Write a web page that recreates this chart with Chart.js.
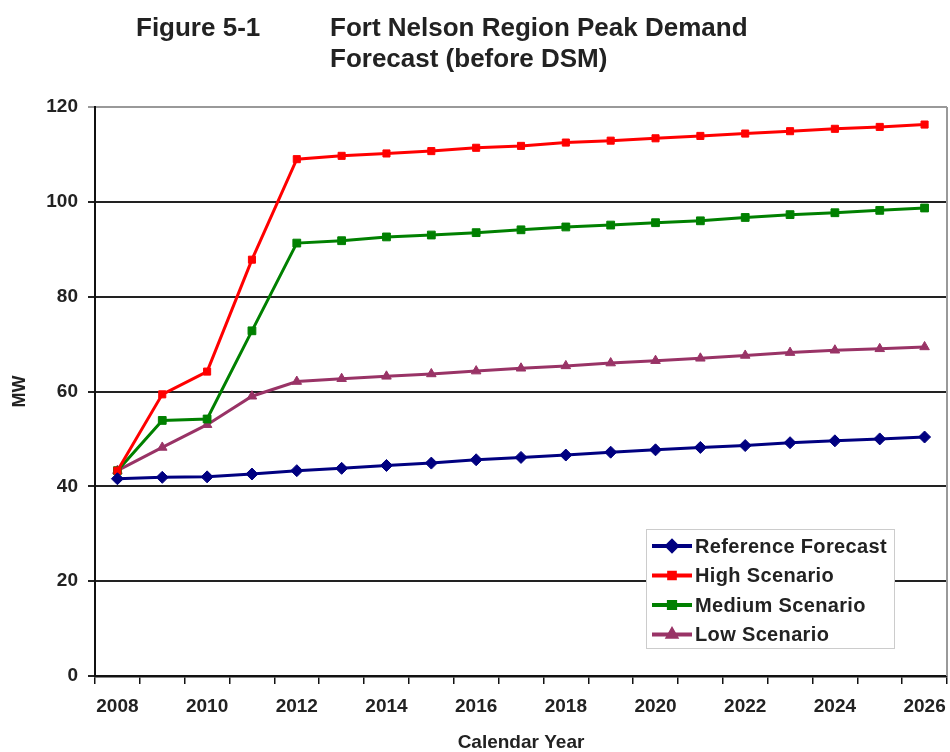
<!DOCTYPE html>
<html>
<head>
<meta charset="utf-8">
<script src="https://cdn.jsdelivr.net/npm/chart.js@4.4.1/dist/chart.umd.min.js"></script>
<style>
  html, body { margin: 0; padding: 0; background: #fff; }
  canvas { display: block; }
</style>
</head>
<body>
<canvas id="chart" width="950" height="752"></canvas>
<script>
// chart data
const years = ['2008', '2009', '2010', '2011', '2012', '2013', '2014', '2015', '2016', '2017',
  '2018', '2019', '2020', '2021', '2022', '2023', '2024', '2025', '2026'];
const referenceForecast = [41.6, 41.9, 42.0, 42.6, 43.3, 43.8, 44.4, 44.9, 45.6, 46.1,
  46.6, 47.2, 47.7, 48.2, 48.6, 49.2, 49.6, 50.0, 50.4];
const highScenario = [43.3, 59.4, 64.2, 87.8, 109.0, 109.7, 110.2, 110.7, 111.4, 111.8,
  112.5, 112.9, 113.4, 113.9, 114.4, 114.9, 115.4, 115.8, 116.3];
const mediumScenario = [43.3, 53.9, 54.2, 72.8, 91.3, 91.8, 92.6, 93.0, 93.5, 94.1,
  94.7, 95.1, 95.6, 96.0, 96.7, 97.3, 97.7, 98.2, 98.7];
const lowScenario = [43.3, 48.2, 53.0, 59.0, 62.1, 62.7, 63.2, 63.7, 64.3, 64.9,
  65.4, 66.0, 66.5, 67.0, 67.6, 68.2, 68.7, 69.0, 69.4];
const yTicks = [0, 20, 40, 60, 80, 100, 120];

const FONT = "'Liberation Sans', Arial, sans-serif";

// title lines at the top of the figure
const figureTitle = {
  id: 'figureTitle',
  afterDraw(chart) {
    const ctx = chart.ctx;
    ctx.save();
    ctx.fillStyle = '#222';
    ctx.font = 'bold 26px ' + FONT;
    ctx.textBaseline = 'alphabetic';
    ctx.fillText('Figure 5-1', 136, 36);
    ctx.fillText('Fort Nelson Region Peak Demand', 330, 36);
    ctx.fillText('Forecast (before DSM)', 330, 67);
    ctx.restore();
  }
};

// grey frame on the right side of the plot
const rightFrame = {
  id: 'rightFrame',
  beforeDatasetsDraw(chart) {
    const a = chart.chartArea;
    const ctx = chart.ctx;
    ctx.save();
    ctx.strokeStyle = '#999';
    ctx.lineWidth = 2;
    ctx.beginPath();
    ctx.moveTo(a.right, a.top);
    ctx.lineTo(a.right, a.bottom);
    ctx.stroke();
    ctx.restore();
  }
};

// legend box inside the plot, lower right
const boxLegend = {
  id: 'boxLegend',
  afterDraw(chart) {
    const ctx = chart.ctx;
    const x = 646, y = 529, w = 248, h = 119;
    ctx.save();
    ctx.fillStyle = '#fff';
    ctx.fillRect(x, y, w, h);
    ctx.strokeStyle = '#ccc';
    ctx.lineWidth = 1;
    ctx.strokeRect(x + 0.5, y + 0.5, w, h);
    ctx.font = 'bold 20px ' + FONT;
    ctx.letterSpacing = '0.35px';
    ctx.textBaseline = 'middle';
    chart.data.datasets.forEach(function (ds, i) {
      const cy = y + 17 + i * 29.5;
      ctx.strokeStyle = ds.borderColor;
      ctx.lineWidth = 4;
      ctx.beginPath();
      ctx.moveTo(652, cy);
      ctx.lineTo(692, cy);
      ctx.stroke();
      Chart.helpers.drawPoint(ctx, {
        pointStyle: ds.pointStyle,
        radius: ds.pointRadius * 0.8,
        borderWidth: 1
      }, 672, cy);
      ctx.fillStyle = ds.borderColor;
      ctx.fill();
      ctx.fillStyle = '#222';
      ctx.fillText(ds.label, 695, cy + 1);
    });
    ctx.restore();
  }
};

const ctx = document.getElementById('chart').getContext('2d');
new Chart(ctx, {
  type: 'line',
  data: {
    labels: years,
    datasets: [
      {
        label: 'Reference Forecast',
        data: referenceForecast,
        borderColor: '#000080',
        backgroundColor: '#000080',
        borderWidth: 3,
        pointStyle: 'rectRot',
        pointRadius: 6,
        pointBorderWidth: 1
      },
      {
        label: 'High Scenario',
        data: highScenario,
        borderColor: '#ff0000',
        backgroundColor: '#ff0000',
        borderWidth: 3,
        pointStyle: 'rect',
        pointRadius: 5,
        pointBorderWidth: 1
      },
      {
        label: 'Medium Scenario',
        data: mediumScenario,
        borderColor: '#008000',
        backgroundColor: '#008000',
        borderWidth: 3,
        pointStyle: 'rect',
        pointRadius: 5.5,
        pointBorderWidth: 1
      },
      {
        label: 'Low Scenario',
        data: lowScenario,
        borderColor: '#993366',
        backgroundColor: '#993366',
        borderWidth: 3,
        pointStyle: 'triangle',
        pointRadius: 5.5,
        pointBorderWidth: 1
      }
    ]
  },
  options: {
    responsive: false,
    animation: false,
    devicePixelRatio: 1,
    layout: { autoPadding: false, padding: { top: 107, right: 3, left: 0, bottom: 0 } },
    plugins: {
      legend: { display: false },
      tooltip: { enabled: false }
    },
    scales: {
      x: {
        type: 'category',
        offset: true,
        afterFit: function (scale) {
          scale.height = 76;
          scale.paddingLeft = 0;
          scale.paddingRight = 0;
        },
        grid: {
          display: true,
          offset: true,
          drawOnChartArea: false,
          drawTicks: true,
          tickLength: 8,
          color: '#111',
          lineWidth: 1.5
        },
        border: { display: true, color: '#111', width: 2.5 },
        ticks: {
          autoSkip: false,
          maxRotation: 0,
          padding: 11,
          color: '#222',
          font: { family: FONT, size: 19, weight: 'bold' },
          callback: function (value, index) {
            return index % 2 === 0 ? years[index] : '';
          }
        },
        title: {
          display: true,
          text: 'Calendar Year',
          color: '#222',
          padding: { top: 0, bottom: 0 },
          font: { family: FONT, size: 19, weight: 'bold', lineHeight: 1 }
        }
      },
      y: {
        min: 0,
        max: 120,
        afterFit: function (scale) { scale.width = 95; },
        afterBuildTicks: function (scale) {
          scale.ticks = yTicks.map(function (v) { return { value: v }; });
        },
        grid: {
          color: function (c) { return c.tick && c.tick.value === 120 ? '#999' : '#222'; },
          lineWidth: 2,
          tickLength: 7,
          drawTicks: true
        },
        border: { display: true, color: '#111', width: 2 },
        ticks: {
          padding: 10,
          color: '#222',
          font: { family: FONT, size: 19, weight: 'bold' }
        },
        title: {
          display: true,
          text: 'MW',
          color: '#222',
          padding: { top: 11, bottom: 0 },
          font: { family: FONT, size: 18, weight: 'bold', lineHeight: 1 }
        }
      }
    }
  },
  plugins: [rightFrame, figureTitle, boxLegend]
});
</script>
</body>
</html>
